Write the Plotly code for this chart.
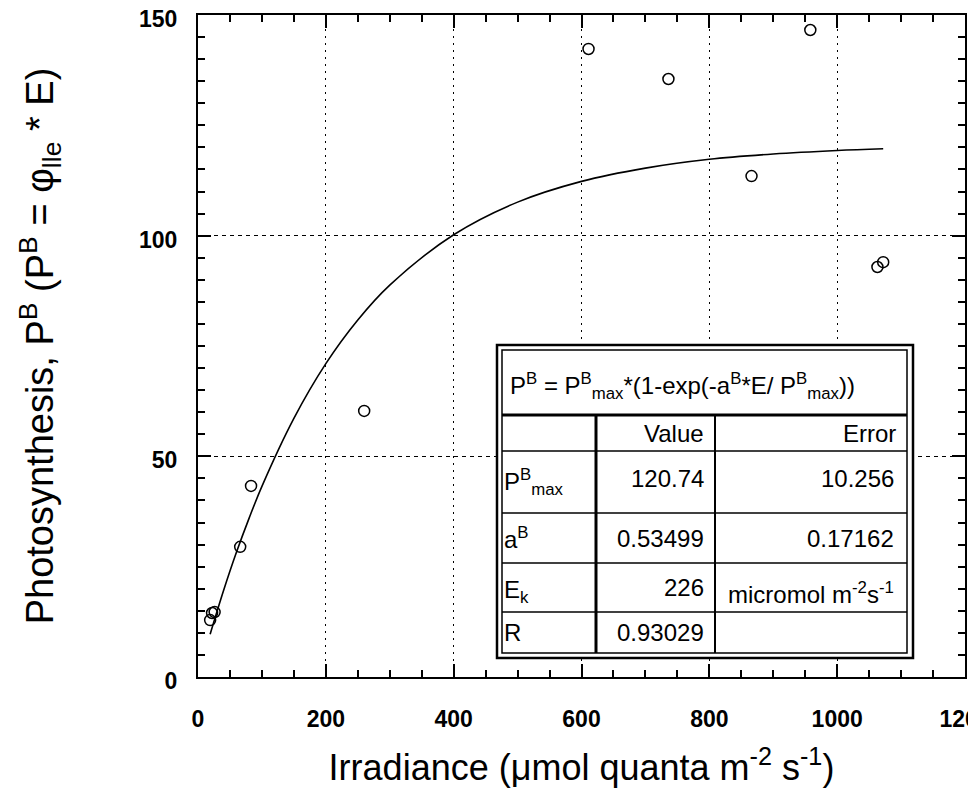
import plotly.graph_objects as go

# ---- data ----
irradiance = [19, 22, 26, 66, 83, 260, 611, 736, 866, 958, 1063, 1072]
photosynthesis = [12.9, 14.5, 14.7, 29.5, 43.3, 60.3, 142.3, 135.5, 113.5, 146.6, 92.9, 94.0]

fit_E = [19, 40, 60, 80, 100, 150, 200, 250, 300, 400, 500, 600, 700, 800, 900, 1000, 1072]
fit_P = [9.7, 19.6, 28.2, 36.0, 43.2, 58.6, 71.0, 80.9, 88.8, 100.2, 107.6, 112.3, 115.3, 117.3, 118.5, 119.3, 119.7]

x_ticks = [0, 200, 400, 600, 800, 1000, 1200]
y_ticks = [0, 50, 100, 150]

table_title = "P<sup>B</sup> = P<sup>B</sup><sub>max</sub>*(1-exp(-a<sup>B</sup>*E/ P<sup>B</sup><sub>max</sub>))"
table_header = ["Value", "Error"]
row_labels = ["P<sup>B</sup><sub>max</sub>", "a<sup>B</sup>", "E<sub>k</sub>", "R"]
row_values = ["120.74", "0.53499", "226", "0.93029"]
row_errors = ["10.256", "0.17162", "micromol m<sup>-2</sup>s<sup>-1</sup>", ""]

FONT = "Liberation Sans, Arial, sans-serif"
PAGE_OFF = 8  # browser body margin
W, H = 976 - PAGE_OFF, 790 - PAGE_OFF
# plot-area edges in page pixels
L, R, T, B = 198, 965, 15, 677


def px(x):
    return (x - L) / (R - L)


def py(y):
    return (B - y) / (B - T)


fig = go.Figure()
fig.add_trace(go.Scatter(x=fit_E, y=fit_P, mode="lines", line=dict(color="black", width=1.6, shape="spline"),
                         showlegend=False, hoverinfo="skip"))
fig.add_trace(go.Scatter(x=irradiance, y=photosynthesis, mode="markers",
                         marker=dict(symbol="circle-open", size=11, color="black", line=dict(width=1.5)),
                         showlegend=False))

axis_common = dict(
    automargin=False,
    showline=True, linecolor="black", linewidth=2, mirror="ticks",
    ticks="inside", ticklen=13, tickwidth=1.5, tickcolor="black",
    showgrid=True, gridcolor="black", gridwidth=1.3,
    zeroline=False,
    tickfont=dict(family=FONT, size=23, color="black", weight="bold"),
)

fig.update_xaxes(
    **axis_common,
    range=[0, 1200], tickvals=x_ticks, ticktext=[str(v) for v in x_ticks],
    griddash="2px,5px",
    minor=dict(ticks="inside", ticklen=7, tickwidth=1.5, tickcolor="black", dtick=50, showgrid=False),
    ticklabelstandoff=20, ticklabeloverflow="allow",
    title=dict(text="Irradiance (\u03bcmol quanta m<sup>-2</sup> s<sup>-1</sup>)",
               font=dict(family=FONT, size=36, color="black"), standoff=24),
)
fig.update_yaxes(
    **axis_common,
    range=[0, 150], tickvals=y_ticks, ticktext=[str(v) for v in y_ticks],
    griddash="4px,4px",
    minor=dict(ticks="inside", ticklen=7, tickwidth=1.5, tickcolor="black", dtick=5, showgrid=False),
    ticklabelstandoff=14, ticklabelshift=4, ticklabeloverflow="allow",
    title=dict(text="Photosynthesis, P<sup>B</sup> (P<sup>B</sup> = \u03c6<sub>lle</sub> * E)",
               font=dict(family=FONT, size=38, color="black"), standoff=74),
)

# ---- fit-results table (drawn in pixel-derived paper coordinates) ----
shapes = []


def rect(x0, y0, x1, y1, w, fill=None):
    shapes.append(dict(type="rect", xref="paper", yref="paper", x0=px(x0), x1=px(x1), y0=py(y1), y1=py(y0),
                       line=dict(color="black", width=w), fillcolor=fill if fill else "rgba(0,0,0,0)", layer="above"))


def hline(y, x0, x1, w):
    shapes.append(dict(type="line", xref="paper", yref="paper", x0=px(x0), x1=px(x1), y0=py(y), y1=py(y),
                       line=dict(color="black", width=w), layer="above"))


def vline(x, y0, y1, w):
    shapes.append(dict(type="line", xref="paper", yref="paper", x0=px(x), x1=px(x), y0=py(y0), y1=py(y1),
                       line=dict(color="black", width=w), layer="above"))


rect(497, 345, 913, 658, 2.5, fill="white")
rect(502, 350, 907, 653, 1.5)
hline(415, 502, 907, 3)
for yy in [451, 513, 563, 612]:
    hline(yy, 502, 907, 1.5)
vline(596, 415, 653, 3)
vline(715, 415, 653, 2)

annotations = []
TF = dict(family=FONT, size=24, color="black")


def txt(text, x, y, xanchor):
    annotations.append(dict(text=text, xref="paper", yref="paper", x=px(x), y=py(y), xanchor=xanchor,
                            yanchor="middle", showarrow=False, font=TF))


txt(table_title, 508, 386, "left")
txt(table_header[0], 706, 433, "right")
txt(table_header[1], 898, 433, "right")
row_y = [478, 538, 587, 632]
for lab, val, err, yy in zip(row_labels, row_values, row_errors, row_y):
    txt(lab, 502, yy + (4 if "sub" in lab else 0), "left")
    txt(val, 706, yy, "right")
    if err:
        txt(err, 896, yy + (6 if "micromol" in err else 0), "right")

fig.update_layout(
    template="none",
    width=W, height=H,
    margin=dict(l=L - PAGE_OFF, r=W - (R - PAGE_OFF), t=T - PAGE_OFF, b=H - (B - PAGE_OFF), autoexpand=False),
    paper_bgcolor="white", plot_bgcolor="white",
    shapes=shapes, annotations=annotations,
    font=dict(family=FONT, color="black"),
    showlegend=False,
)

fig.write_html("out.html")
